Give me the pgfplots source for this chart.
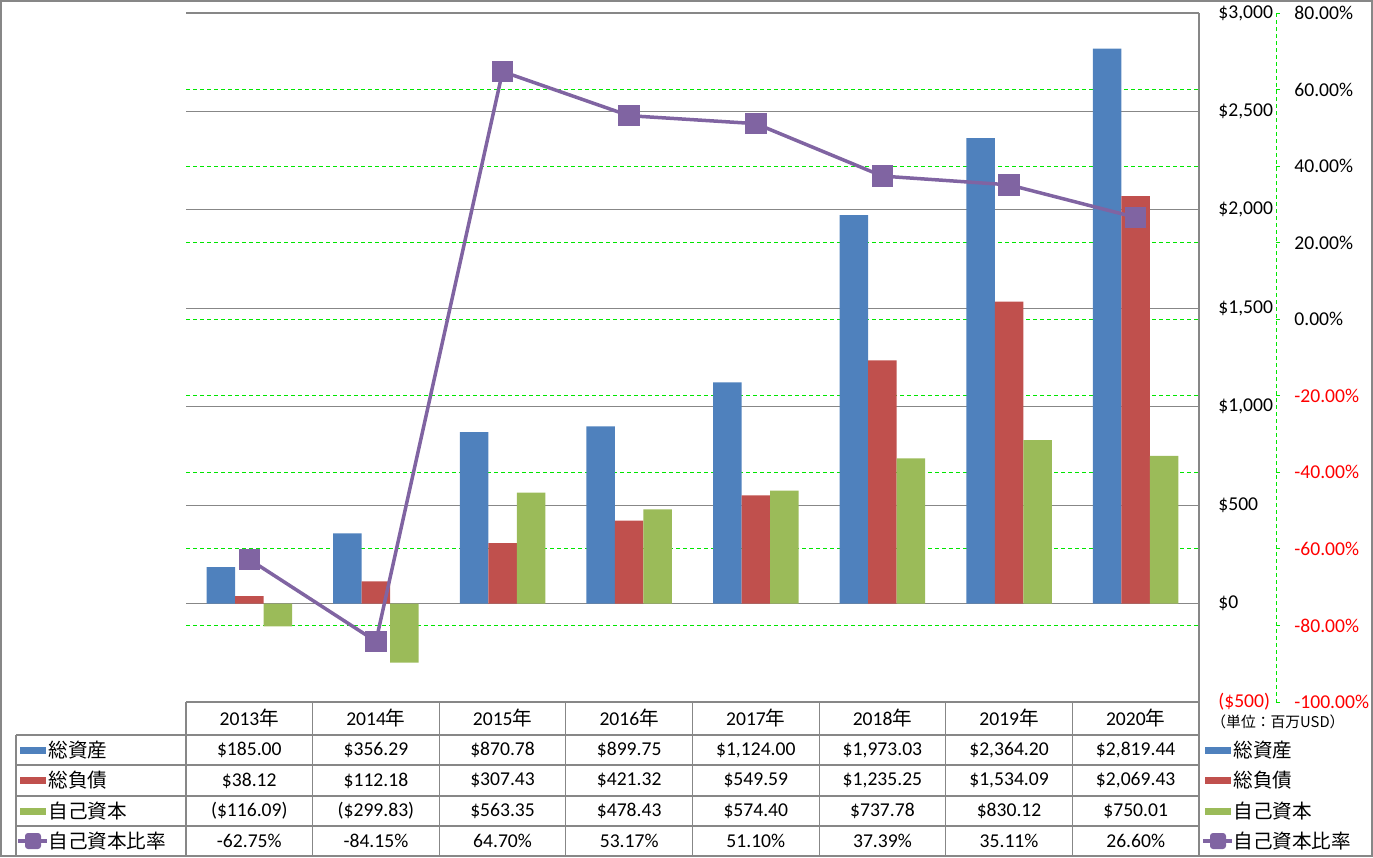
\documentclass[border=0pt]{standalone}
\usepackage{pgfplots}
\pgfplotsset{compat=1.18}
\usepackage{fontspec}
\setmainfont{Carlito}
\newfontfamily\jp{Noto Sans CJK JP}
\definecolor{assets}{HTML}{4F81BD}
\definecolor{liab}{HTML}{C0504D}
\definecolor{equity}{HTML}{9BBB59}
\definecolor{ratio}{HTML}{8064A2}
\definecolor{gridgray}{HTML}{878787}
\definecolor{gridgreen}{HTML}{00E600}
\newcommand{\fs}{\fontsize{9.8pt}{11pt}\selectfont}
\pgfplotsset{
  panel/.style={
    at={(93pt,-351pt)}, anchor=south west,
    width=506.5pt, height=344.5pt, scale only axis,
    xmin=-0.5, xmax=7.5,
  },
}

\begin{document}
\begin{tikzpicture}[font=\fs]
% 1px = 0.5pt, y pointing down
\begin{scope}[x=0.5pt,y=-0.5pt]
  \useasboundingbox (0,0) rectangle (1373,858);
  \draw[gridgray, line width=0.6pt] (1,1) rectangle (1372,856);
\end{scope}

% secondary axis: green grid and percent labels
\begin{axis}[panel,
  ymin=-100, ymax=80,
  axis x line=none, axis y line*=right,
  y axis line style={draw=none},
  major tick length=0pt,
  ytick={-80,-60,-40,-20,0,20,40,60},
  yticklabels={\textcolor{red}{-80.00\%},\textcolor{red}{-60.00\%},\textcolor{red}{-40.00\%},\textcolor{red}{-20.00\%},0.00\%,20.00\%,40.00\%,60.00\%},
  extra y ticks={-100,80},
  extra y tick labels={\textcolor{red}{-100.00\%},80.00\%},
  extra y tick style={grid=none},
  ymajorgrids,
  grid style={gridgreen, line width=0.5pt, dash pattern=on 2pt off 1.5pt},
  yticklabel style={anchor=west, inner sep=0pt, xshift=47.5pt, font=\fs},
]
\end{axis}

% primary axis: bars
\begin{axis}[panel,
  ymin=-500, ymax=3000,
  axis x line=none, axis y line*=right,
  y axis line style={draw=none},
  major tick length=0pt,
  ytick={-500,0,500,1000,1500,2000,2500,3000},
  yticklabels={{\textcolor{red}{(\$500)}},{\$0},{\$500},{\$1,000},{\$1,500},{\$2,000},{\$2,500},{\$3,000}},
  ymajorgrids,
  grid style={gridgray, line width=0.6pt},
  yticklabel style={anchor=west, inner sep=0pt, xshift=9.5pt, font=\fs},
  ybar=0pt, bar width=14.25pt,
]
\addplot[fill=assets, draw=none] coordinates {
  (0,185.00) (1,356.29) (2,870.78) (3,899.75) (4,1124.00) (5,1973.03) (6,2364.20) (7,2819.44)};
\addplot[fill=liab, draw=none] coordinates {
  (0,38.12) (1,112.18) (2,307.43) (3,421.32) (4,549.59) (5,1235.25) (6,1534.09) (7,2069.43)};
\addplot[fill=equity, draw=none] coordinates {
  (0,-116.09) (1,-299.83) (2,563.35) (3,478.43) (4,574.40) (5,737.78) (6,830.12) (7,750.01)};
\end{axis}

% equity ratio line on secondary scale
\begin{axis}[panel, ymin=-100, ymax=80, hide axis, clip=false]
\addplot[ratio, line width=1.75pt, mark=square*, mark size=4.5pt,
  mark options={rounded corners=1pt}] coordinates {
  (0,-62.75) (1,-84.15) (2,64.70) (3,53.17) (4,51.10) (5,37.39) (6,35.11) (7,26.60)};
\end{axis}

\begin{scope}[x=0.5pt,y=-0.5pt]
  % secondary axis line with small ticks
  \draw[gridgreen, line width=0.5pt, dash pattern=on 2pt off 1.5pt] (1276,13) -- (1276,702);
  \foreach \k in {0,...,9}
    \draw[gridgreen, line width=0.5pt] (1276,13+76.556*\k) -- (1280,13+76.556*\k);
  % primary axis line down through the table
  \draw[gridgray, line width=0.6pt] (1199,13) -- (1199,856);
  % data table
  \begin{scope}[gridgray, line width=0.6pt]
    \draw (186,702) -- (186,856);
    \draw (16,735) -- (16,856);
    \foreach \r in {735,765,796,826,856}
      \draw (16,\r) -- (1199,\r);
    \foreach \i in {1,...,7}
      \draw (186+126.625*\i,702) -- (186+126.625*\i,856);
  \end{scope}
  \foreach \yr [count=\i from 0] in {2013,2014,2015,2016,2017,2018,2019,2020}
    \node at (249.3+126.625*\i,718.5) {\yr{\jp 年}};
  \foreach \v [count=\i from 0] in {\$185.00,\$356.29,\$870.78,\$899.75,{\$1,124.00},{\$1,973.03},{\$2,364.20},{\$2,819.44}}
    \node at (249.3+126.625*\i,750) {\v};
  \foreach \v [count=\i from 0] in {\$38.12,\$112.18,\$307.43,\$421.32,\$549.59,{\$1,235.25},{\$1,534.09},{\$2,069.43}}
    \node at (249.3+126.625*\i,780.5) {\v};
  \foreach \v [count=\i from 0] in {(\$116.09),(\$299.83),\$563.35,\$478.43,\$574.40,\$737.78,\$830.12,\$750.01}
    \node at (249.3+126.625*\i,811) {\v};
  \foreach \v [count=\i from 0] in {-62.75\%,-84.15\%,64.70\%,53.17\%,51.10\%,37.39\%,35.11\%,26.60\%}
    \node at (249.3+126.625*\i,841) {\v};
  % legend keys, left (in table) and right
  \foreach \lx/\tx in {20/48,1205/1233}{
    \fill[assets] (\lx,747) rectangle (\lx+26,754);
    \node[anchor=west, inner sep=0pt] at (\tx,750) {\jp 総資産};
    \fill[liab] (\lx,777) rectangle (\lx+26,784);
    \node[anchor=west, inner sep=0pt] at (\tx,780.5) {\jp 総負債};
    \fill[equity] (\lx,808) rectangle (\lx+26,815);
    \node[anchor=west, inner sep=0pt] at (\tx,811) {\jp 自己資本};
    \draw[ratio, line width=2pt] (\lx-2,841) -- (\lx+27,841);
    \fill[ratio, rounded corners=1.5pt] (\lx+5,833) rectangle (\lx+21,849);
    \node[anchor=west, inner sep=0pt] at (\tx,841) {\jp 自己資本比率};
  }
  \node[anchor=west, inner sep=0pt, font=\jp\fontsize{7.4pt}{8pt}\selectfont] at (1211,722) {（単位：百万USD）};
\end{scope}
\end{tikzpicture}
\end{document}
